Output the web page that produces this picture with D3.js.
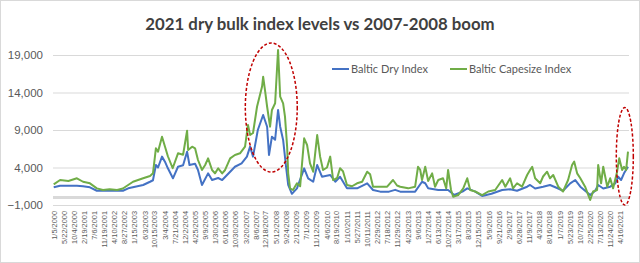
<!DOCTYPE html>
<html>
<head>
<meta charset="utf-8">
<script src="https://cdn.jsdelivr.net/npm/d3@7"></script>
<style>
  body { margin: 0; background: #fff; }
  svg { display: block; font-family: Lato, "Open Sans", sans-serif; }
</style>
</head>
<body>
<svg id="chart" width="640" height="263"></svg>
<script>
// values: [decimal year, index level]
var bdi = [
  [2000.00,1360],[2000.24,1570],[2000.87,1570],[2001.10,1500],[2001.36,1360],[2001.62,900],
  [2002.00,900],[2002.38,900],[2002.60,900],[2002.80,1220],[2003.36,1670],[2003.62,2100],
  [2003.73,2300],[2003.84,4330],[2003.92,4000],[2004.07,5450],[2004.18,4780],[2004.29,3890],
  [2004.48,2560],[2004.67,4100],[2004.86,4300],[2005.01,6110],[2005.10,4330],[2005.31,4500],
  [2005.42,3670],[2005.57,1670],[2005.80,3220],[2005.95,2330],[2006.18,2600],[2006.33,2330],
  [2006.63,3440],[2006.81,4100],[2007.06,4560],[2007.26,5450],[2007.38,6780],[2007.49,5450],
  [2007.67,9000],[2007.87,11000],[2008.02,9440],[2008.09,5670],[2008.20,8110],[2008.32,7700],
  [2008.43,11670],[2008.51,9440],[2008.62,7670],[2008.73,4100],[2008.81,1670],[2008.95,490],
  [2009.14,1220],[2009.41,3890],[2009.56,2560],[2009.75,2100],[2009.90,4330],[2010.08,2770],
  [2010.39,3000],[2010.58,2100],[2010.76,2770],[2011.02,1220],[2011.40,1220],[2011.78,1890],
  [2012.00,1000],[2012.27,780],[2012.60,780],[2012.83,1020],[2013.02,780],[2013.58,780],
  [2013.84,2100],[2013.96,1900],[2014.07,1220],[2014.45,1000],[2014.82,1000],[2015.05,330],
  [2015.36,780],[2015.54,1220],[2015.84,780],[2016.10,200],[2016.45,500],[2016.85,1000],
  [2017.15,1100],[2017.41,900],[2017.79,1440],[2017.90,1670],[2018.09,1200],[2018.39,1440],
  [2018.65,1670],[2018.96,1200],[2019.14,900],[2019.41,1890],[2019.60,2330],[2019.79,1440],
  [2019.97,900],[2020.16,330],[2020.35,900],[2020.46,1670],[2020.65,1200],[2020.91,1440],
  [2021.10,1890],[2021.21,2770],[2021.32,2330],[2021.43,3220],[2021.58,4100]
];

var bci = [
  [2000.00,1760],[2000.24,2330],[2000.55,2200],[2000.87,2560],[2001.10,2100],[2001.36,1890],
  [2001.62,1220],[2001.85,1000],[2002.10,1100],[2002.38,1000],[2002.60,1200],[2002.98,2100],
  [2003.36,2560],[2003.62,2870],[2003.73,3220],[2003.84,6560],[2003.92,6110],[2004.07,8110],
  [2004.18,6800],[2004.29,5500],[2004.47,3900],[2004.67,5890],[2004.86,5700],[2005.01,8910],
  [2005.05,6330],[2005.20,6780],[2005.31,6560],[2005.42,5000],[2005.57,3670],[2005.69,4330],
  [2005.80,5220],[2005.95,3670],[2006.06,3220],[2006.18,3890],[2006.33,3220],[2006.44,3670],
  [2006.63,5220],[2006.81,5670],[2007.00,5890],[2007.19,6780],[2007.30,9670],[2007.38,8330],
  [2007.49,8600],[2007.64,12100],[2007.83,14800],[2007.87,16100],[2007.94,14330],[2008.02,12100],
  [2008.13,9440],[2008.20,11670],[2008.32,12560],[2008.43,19670],[2008.51,13440],[2008.62,12560],
  [2008.69,10780],[2008.77,6780],[2008.81,3220],[2008.88,1220],[2008.99,1000],[2009.14,1890],
  [2009.26,1500],[2009.41,7890],[2009.52,7000],[2009.63,4560],[2009.75,3440],[2009.90,8330],
  [2010.01,5450],[2010.12,3670],[2010.27,4000],[2010.39,5450],[2010.50,2330],[2010.65,2600],
  [2010.76,3890],[2010.87,3500],[2011.02,1670],[2011.21,1500],[2011.40,1890],[2011.59,2100],
  [2011.78,3440],[2011.89,3100],[2012.00,1440],[2012.27,1440],[2012.53,1440],[2012.75,2330],
  [2012.90,1600],[2013.02,1440],[2013.32,1220],[2013.58,1440],[2013.69,4100],[2013.77,3700],
  [2013.84,2330],[2013.96,4100],[2014.07,2200],[2014.22,3220],[2014.33,1440],[2014.45,2330],
  [2014.63,2560],[2014.75,1220],[2014.82,3670],[2014.93,1000],[2015.01,110],[2015.20,330],
  [2015.39,1220],[2015.54,2560],[2015.65,1000],[2015.84,800],[2016.10,330],[2016.33,800],
  [2016.59,1000],[2016.85,2330],[2016.97,1440],[2017.15,2560],[2017.26,1220],[2017.41,1900],
  [2017.60,1440],[2017.79,3000],[2017.90,3670],[2017.98,4100],[2018.09,2560],[2018.28,1900],
  [2018.39,2800],[2018.54,3440],[2018.65,2560],[2018.77,3000],[2018.96,1440],[2019.14,800],
  [2019.33,2330],[2019.48,4330],[2019.56,4780],[2019.67,3220],[2019.79,2560],[2019.97,1440],
  [2020.09,330],[2020.16,-330],[2020.27,800],[2020.42,1000],[2020.46,4330],[2020.57,1900],
  [2020.65,4100],[2020.80,1440],[2020.91,2560],[2021.02,1220],[2021.17,3440],[2021.25,5220],
  [2021.36,3670],[2021.43,4100],[2021.51,3670],[2021.58,6110]
];

var tickLabels = ['1/5/2000','5/22/2000','10/4/2000','2/19/2001','7/6/2001','11/19/2001',
  '4/10/2002','8/27/2002','1/15/2003','6/3/2003','10/15/2003','3/4/2004','7/21/2004',
  '12/2/2004','4/25/2005','9/9/2005','1/30/2006','6/16/2006','10/30/2006','3/20/2007',
  '8/6/2007','12/18/2007','5/12/2008','9/24/2008','2/12/2009','7/1/2009','11/12/2009',
  '4/6/2010','8/19/2010','1/10/2011','5/27/2011','10/11/2011','2/29/2012','7/18/2012',
  '11/29/2012','4/23/2013','9/6/2013','1/27/2014','6/13/2014','10/27/2014','3/17/2015',
  '8/3/2015','12/15/2015','5/9/2016','9/21/2016','2/9/2017','6/28/2017','11/9/2017',
  '4/3/2018','8/16/2018','1/7/2019','5/23/2019','10/7/2019','2/25/2020','7/13/2020',
  '11/24/2020','4/16/2021']

var yTicks = [-1000, 4000, 9000, 14000, 19000]

var seriesNames = ['Baltic Dry Index', 'Baltic Capesize Index']
var seriesColors = ['#4472c4', '#70ad47']

// red dashed rings: [from year, to year, low value, high value]
var rings = [[2007.2, 2009.15, 3400, 20600], [2021.14, 2021.78, -1000, 12000]]

function yearToDate(t){
  var y = Math.floor(t)
  var a = new Date(y, 0, 1), b = new Date(y + 1, 0, 1)
  return new Date(+a + (t - y) * (b - a))
}

var parseTick = d3.timeParse('%m/%d/%Y')
var tickDates = tickLabels.map(parseTick)

var svg = d3.select('#chart')

svg.append('rect')
  .attr('x', 0.5).attr('y', 0.5).attr('width', 639).attr('height', 262)
  .attr('fill', '#fff').attr('stroke', '#d9d9d9')

var x = d3.scaleTime()
  .domain([tickDates[0], yearToDate(2021.58)])
  .range([54, 628])
var y = d3.scaleLinear()
  .domain([-1000, 19000])
  .range([205, 55])

// gridlines + y labels
var yAxis = svg.append('g')
  .attr('transform', 'translate(53,0)')
  .call(d3.axisLeft(y).tickValues(yTicks).tickFormat(d3.format(',')).tickSize(-576).tickPadding(10))
yAxis.select('.domain').remove()
yAxis.selectAll('line').attr('stroke', '#d9d9d9')
yAxis.selectAll('text').attr('fill', '#595959').style('font-size', '11.5px')

// category axis sits at zero
svg.append('line')
  .attr('x1', 53).attr('x2', 629)
  .attr('y1', y(0)).attr('y2', y(0))
  .attr('stroke', '#d9d9d9').attr('stroke-width', 3)

var xAxis = svg.append('g')
  .attr('transform', 'translate(0,' + y(-1000) + ')')
  .call(d3.axisBottom(x).tickValues(tickDates).tickFormat(function(d, i){ return tickLabels[i] }).tickSize(0))
xAxis.select('.domain').remove()
xAxis.selectAll('text')
  .attr('transform', 'rotate(-90)')
  .attr('x', -6).attr('y', 0).attr('dy', '0.32em')
  .style('text-anchor', 'end')
  .style('font-size', '7.4px')
  .attr('fill', '#595959')

var line = d3.line()
  .x(function(d){ return x(yearToDate(d[0])) })
  .y(function(d){ return y(d[1]) })

svg.selectAll('.series')
  .data([bdi, bci])
  .enter().append('path')
  .attr('class', 'series')
  .attr('d', line)
  .attr('fill', 'none')
  .attr('stroke', function(d, i){ return seriesColors[i] })
  .attr('stroke-width', 2)
  .attr('stroke-linejoin', 'round')

svg.selectAll('.ring')
  .data(rings)
  .enter().append('ellipse')
  .attr('class', 'ring')
  .attr('cx', function(d){ return (x(yearToDate(d[0])) + x(yearToDate(d[1]))) / 2 })
  .attr('cy', function(d){ return (y(d[2]) + y(d[3])) / 2 })
  .attr('rx', function(d){ return (x(yearToDate(d[1])) - x(yearToDate(d[0]))) / 2 })
  .attr('ry', function(d){ return (y(d[2]) - y(d[3])) / 2 })
  .attr('fill', 'none')
  .attr('stroke', '#c00000')
  .attr('stroke-width', 1.5)
  .attr('stroke-dasharray', '3,2')

// legend
var legend = svg.selectAll('.legend')
  .data(seriesNames)
  .enter().append('g')
  .attr('class', 'legend')
  .attr('transform', function(d, i){ return 'translate(' + [332, 450][i] + ',69)' })
legend.append('line')
  .attr('x1', 0).attr('x2', 17)
  .attr('stroke', function(d, i){ return seriesColors[i] })
  .attr('stroke-width', 2)
legend.append('text')
  .attr('x', 19).attr('dy', '0.35em')
  .attr('fill', '#595959')
  .style('font-size', '11px')
  .text(function(d){ return d })

svg.append('text')
  .attr('x', 320).attr('y', 30)
  .attr('text-anchor', 'middle')
  .attr('fill', '#404040')
  .style('font-size', '16.8px')
  .style('font-weight', 'bold')
  .text('2021 dry bulk index levels vs 2007-2008 boom')
</script>
</body>
</html>
